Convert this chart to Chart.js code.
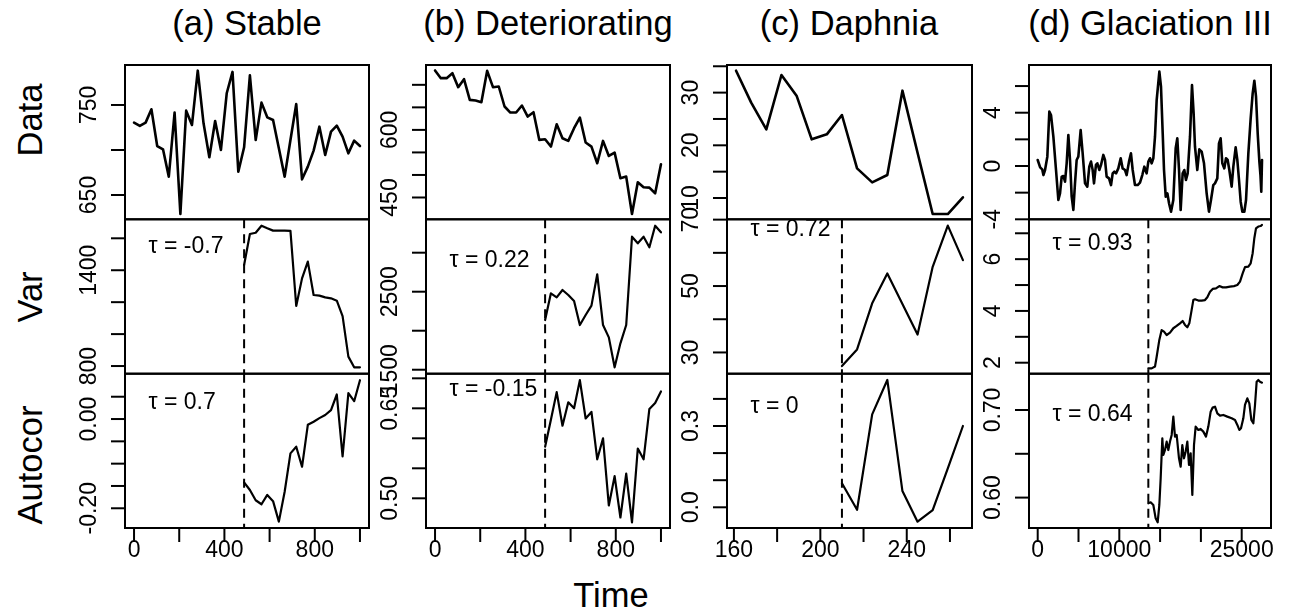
<!DOCTYPE html>
<html>
<head>
<meta charset="utf-8">
<script src="https://cdn.jsdelivr.net/npm/chart.js@4"></script>
<style>
  body { margin: 0; background: #fff; width: 1289px; height: 613px; position: relative; overflow: hidden;
         font-family: "Liberation Sans", Arial, sans-serif; }
  canvas { position: absolute; left: 0; top: 0; }
  .lbl { position: absolute; font-size: 34.5px; line-height: 1; color: #000; white-space: nowrap;
         transform: translate(-50%, -50%); }
  .rot { transform: translate(-50%, -50%) rotate(-90deg); }
</style>
</head>
<body>
<div class="lbl" style="left:247px; top:23px">(a) Stable</div>
<div class="lbl" style="left:548px; top:23px">(b) Deteriorating</div>
<div class="lbl" style="left:849px; top:23px">(c) Daphnia</div>
<div class="lbl" style="left:1150px; top:23px">(d) Glaciation III</div>
<div class="lbl rot" style="left:30px; top:120px">Data</div>
<div class="lbl rot" style="left:30px; top:297px">Var</div>
<div class="lbl rot" style="left:30px; top:465px">Autocor</div>
<div class="lbl" style="left:611px; top:595px">Time</div>

<script>
// ---- data ----
const stableData = [730.4, 726.7, 730.4, 745.2, 704.4, 700.7, 670.4, 741.5, 628.9, 743.7, 727.8, 788.1, 729.6, 691.9,
    732.2, 700.0, 763.0, 786.7, 675.9, 703.0, 783.0, 711.1, 752.6, 736.3, 733.3, 701.9, 670.4, 711.1, 751.1, 667.4,
    681.5, 699.3, 725.9, 694.4, 720.4, 727.0, 714.8, 696.3, 710.4, 704.4];
const stableVar = [1433, 1627, 1635, 1679, 1663, 1648, 1648, 1648, 1646, 1176, 1349, 1454, 1245, 1241, 1230, 1224,
    1209, 1113, 859, 792, 792];
const stableAutocor = [-0.142, -0.159, -0.182, -0.191, -0.170, -0.184, -0.230, -0.163, -0.077, -0.062, -0.107,
    -0.013, -0.006, 0.002, 0.009, 0.020, 0.055, -0.084, 0.058, 0.040, 0.087];

const detData = [731.9, 714.8, 714.8, 725.9, 694.8, 712.6, 666.7, 665.2, 661.5, 731.1, 694.8, 696.3, 651.9, 638.5,
    638.5, 654.1, 629.6, 639.3, 577.8, 579.3, 563.0, 612.6, 581.5, 575.6, 603.7, 627.4, 571.9, 563.0, 525.9, 575.6,
    542.2, 549.6, 492.6, 496.3, 413.3, 483.7, 472.6, 471.9, 459.3, 523.7];
const detVar = [2137, 2479, 2428, 2522, 2458, 2381, 2073, 2201, 2321, 2723, 2073, 1915, 1531, 1838, 2073, 3205, 3120,
    3205, 3069, 3346, 3261];
const detAutocor = [0.586, 0.631, 0.677, 0.621, 0.660, 0.650, 0.697, 0.633, 0.644, 0.565, 0.600, 0.488, 0.537, 0.468,
    0.541, 0.460, 0.583, 0.565, 0.649, 0.659, 0.678];

const daphniaTime = [161, 168, 175, 182, 189, 196, 203, 210, 217, 224, 231, 238, 245, 252, 259, 266];
const daphniaData = [34.16, 28.09, 23.03, 33.34, 29.42, 21.13, 22.08, 25.75, 15.63, 12.97, 14.36, 30.37, 18.60, 6.96,
    6.96, 10.13];
const daphniaVar = [25.9, 30.9, 44.8, 53.8, 44.6, 35.4, 55.8, 68.2, 57.8];
const daphniaAutocor = [0.089, -0.009, 0.343, 0.470, 0.060, -0.053, -0.010, 0.144, 0.300];

const glacTime = [0, 300, 550, 700, 900, 1180, 1425, 1630, 1920, 2245, 2530, 2735, 2940, 3145, 3350, 3550, 3755,
    3960, 4165, 4370, 4570, 4775, 4980, 5265, 5510, 5800, 6080, 6325, 6530, 6735, 6900, 7140, 7310, 7550, 7760, 8040,
    8250, 8450, 8740, 8985, 9190, 9390, 9600, 9880, 10170, 10410, 10700, 10900, 11190, 11430, 11640, 11920, 12250,
    12535, 12820, 13070, 13350, 13560, 13760, 13965, 14170, 14375, 14580, 14910, 15110, 15320, 15480, 15690, 15890,
    16095, 16340, 16620, 16910, 17110, 17320, 17520, 17765, 17970, 18170, 18380, 18665, 18910, 19110, 19275, 19560,
    19805, 20090, 20380, 20705, 20990, 21235, 21520, 21725, 22010, 22215, 22420, 22625, 22870, 23075, 23280, 23485,
    23770, 23975, 24260, 24465, 24670, 24875, 25080, 25325, 25530, 25815, 26100, 26345, 26550, 26755, 26960, 27165,
    27300, 27400, 27490];
const glacData = [0.45, -0.10, -0.25, -0.68, -0.30, 0.70, 4.08, 3.83, 2.20, -0.30, -2.55, -2.05, -0.80, -0.75, -1.18,
    0.20, 2.33, 0.45, -2.30, -3.30, -1.30, 0.45, 0.70, 2.70, 0.95, -1.30, -1.55, -0.05, 0.33, -0.30, -1.30, 0.08, 0.20,
    -0.30, 0.08, 0.83, 0.45, -0.80, -0.93, -1.43, -0.55, -0.43, -0.55, -0.18, 0.58, -0.18, -0.30, -0.68, 0.33, 0.95,
    -0.30, -1.43, -1.43, -1.25, -0.68, -0.05, -0.55, 0.33, 0.58, 0.20, 0.58, 2.20, 4.95, 7.08, 5.95, 2.45, -0.30,
    -2.30, -2.05, -2.80, -3.43, -2.55, 1.33, 2.08, -0.30, -3.30, -0.55, -0.30, -1.05, -0.55, 2.20, 6.08, 3.95, 1.45,
    -0.30, 1.25, 1.08, 0.20, -2.05, -3.43, -2.55, -1.43, -1.30, -0.93, 1.70, 2.08, 0.20, -0.18, 0.58, 0.45, -0.30,
    -1.55, -0.05, 1.40, 0.45, -1.05, -2.68, -3.43, -3.43, -2.55, 0.95, 3.58, 5.45, 6.40, 5.20, 2.45, 0.33, -0.68,
    -1.93, 0.45];
const glacVarTime = [13558, 13966, 14375, 14579, 14906, 15192, 15478, 15805, 16213, 16621, 17030, 17438, 17765, 18051,
    18337, 18582, 18868, 19072, 19276, 19685, 20093, 20502, 20788, 21115, 21442, 21850, 22259, 22667, 23076, 23566,
    24056, 24465, 24792, 25118, 25404, 25813, 26099, 26344, 26548, 26752, 27038, 27324, 27488];
const glacVar = [1.78, 1.78, 1.85, 2.23, 2.88, 3.26, 3.20, 3.07, 3.16, 3.33, 3.42, 3.52, 3.61, 3.46, 3.37, 3.52, 4.04,
    4.42, 4.45, 4.40, 4.40, 4.42, 4.53, 4.74, 4.85, 4.87, 4.96, 4.91, 4.91, 4.94, 4.96, 5.00, 5.13, 5.45, 5.69, 5.71,
    5.84, 6.23, 6.81, 7.19, 7.26, 7.28, 7.32];
const glacAcTime = [13558, 13844, 14171, 14457, 14702, 14906, 15070, 15274, 15396, 15601, 15805, 16009, 16213, 16418,
    16622, 16826, 17030, 17316, 17520, 17724, 17929, 18133, 18337, 18541, 18746, 18950, 19154, 19358, 19685, 19971,
    20298, 20625, 20911, 21197, 21442, 21728, 22014, 22341, 22749, 23239, 23770, 24179, 24465, 24710, 24914, 25200,
    25404, 25690, 25936, 26181, 26426, 26630, 26834, 27038, 27243, 27488];
const glacAutocor = [0.5935, 0.5946, 0.5916, 0.5763, 0.5718, 0.5916, 0.622, 0.6677, 0.6486, 0.6543, 0.6639, 0.6543,
    0.6639, 0.6715, 0.6924, 0.6696, 0.6715, 0.6448, 0.6353, 0.66, 0.6448, 0.6524, 0.6639, 0.6372, 0.6505, 0.603, 0.66,
    0.681, 0.6772, 0.6783, 0.6753, 0.6696, 0.681, 0.6981, 0.7027, 0.7038, 0.6962, 0.6935, 0.6943, 0.6924, 0.6905,
    0.6886, 0.6829, 0.6772, 0.6791, 0.6905, 0.7057, 0.7133, 0.7076, 0.6886, 0.6848, 0.7057, 0.7323, 0.7342, 0.7323,
    0.7312];

// Kendall tau labels
const tauText = ['\u03c4 = -0.7', '\u03c4 = 0.7', '\u03c4 = 0.22', '\u03c4 = -0.15',
                 '\u03c4 = 0.72', '\u03c4 = 0', '\u03c4 = 0.93', '\u03c4 = 0.64'];

// tick values and labels ('' = tick without label)
const yTicksA = [[650, 700, 750], [800, 1000, 1200, 1400, 1600], [-0.2, -0.15, -0.1, -0.05, 0, 0.05]];
const yLabelsA = [['650', '', '750'], ['800', '', '', '1400', ''], ['-0.20', '', '', '', '0.00', '']];
const yTicksB = [[450, 500, 550, 600, 650, 700], [1500, 2000, 2500, 3000], [0.5, 0.55, 0.6, 0.65, 0.7]];
const yLabelsB = [['450', '', '', '600', '', ''], ['1500', '', '2500', ''], ['0.50', '', '', '0.65', '']];
const yTicksC = [[10, 15, 20, 25, 30, 35], [30, 40, 50, 60, 70], [0, 0.1, 0.2, 0.3, 0.4]];
const yLabelsC = [['10', '', '20', '', '30', ''], ['30', '', '50', '', '70'], ['0.0', '', '', '0.3', '']];
const yTicksD = [[-4, -2, 0, 2, 4, 6], [2, 3, 4, 5, 6, 7], [0.6, 0.65, 0.7]];
const yLabelsD = [['-4', '', '0', '', '4', ''], ['2', '', '4', '', '6', ''], ['0.60', '', '0.70']];
const xTicksAB = [0, 200, 400, 600, 800, 1000];
const xLabelsAB = ['0', '', '400', '', '800', ''];
const xTicksC = [160, 180, 200, 220, 240, 260];
const xLabelsC = ['160', '', '200', '', '240', ''];
const xTicksD = [0, 5000, 10000, 15000, 20000, 25000];
const xLabelsD = ['0', '', '10000', '', '', '25000'];

// ---- layout ----
const W = 1289, H = 613;
const FONT = '"Liberation Sans", Arial, sans-serif';
const colX = [[125, 369], [426, 670], [727, 972], [1029, 1271]];
const rowY = [[65, 219.3], [219.3, 373.7], [373.7, 528]];

// time axes (stable / deteriorating are evenly sampled on 0..1000)
const abTime = stableData.map((_, i) => i * 1000 / 39);
const abWin = abTime.slice(19);
const cWin = daphniaTime.slice(7);

const columns = [
    { xr: [-40, 1040], win: abTime[19], xt: xTicksAB, xl: xLabelsAB, yt: yTicksA, yl: yLabelsA,
      yr: [[623, 794.4], [752, 1719], [-0.2442, 0.1016]],
      series: [[abTime, stableData], [abWin, stableVar], [abWin, stableAutocor]], tauDy: [27, 29] },
    { xr: [-40, 1040], win: abTime[19], xt: xTicksAB, xl: xLabelsAB, yt: yTicksB, yl: yLabelsB,
      yr: [[401.6, 744], [1449, 3428], [0.4505, 0.7077]],
      series: [[abTime, detData], [abWin, detVar], [abWin, detAutocor]], tauDy: [41, 15.5] },
    { xr: [156.8, 270.2], win: 210, xt: xTicksC, xl: xLabelsC, yt: yTicksC, yl: yLabelsC,
      yr: [[5.96, 35.24], [23.6, 70.1], [-0.0764, 0.493]],
      series: [[daphniaTime, daphniaData], [cWin, daphniaVar], [cWin, daphniaAutocor]], tauDy: [10, 33] },
    { xr: [-1066, 28591], win: 13558, xt: xTicksD, xl: xLabelsD, yt: yTicksD, yl: yLabelsD,
      yr: [[-4.0, 7.58], [1.575, 7.54], [0.5653, 0.7414]],
      series: [[glacTime, glacData], [glacVarTime, glacVar], [glacAcTime, glacAutocor]], tauDy: [24, 41.3] }
];

const rAxes = {
    id: 'rAxes',
    afterDraw(chart) {
        const p = chart.options.plugins.rAxes;
        const ctx = chart.ctx;
        const { left, right, top, bottom } = chart.chartArea;
        const xs = chart.scales.x, ys = chart.scales.y;
        ctx.save();
        ctx.strokeStyle = '#000';
        ctx.fillStyle = '#000';
        ctx.lineWidth = 2;

        // window end marker
        if (p.win !== null) {
            const x = xs.getPixelForValue(p.win);
            ctx.save();
            ctx.setLineDash([9, 6]);
            ctx.beginPath();
            ctx.moveTo(x, top);
            ctx.lineTo(x, bottom);
            ctx.stroke();
            ctx.restore();
        }

        ctx.strokeRect(left, top, right - left, bottom - top);

        // y axis (labels parallel to the axis)
        ctx.font = '23px ' + FONT;
        p.yt.forEach((v, i) => {
            const y = ys.getPixelForValue(v);
            ctx.beginPath();
            ctx.moveTo(left, y);
            ctx.lineTo(left - 14, y);
            ctx.stroke();
            if (p.yl[i]) {
                ctx.save();
                ctx.translate(left - 35, y);
                ctx.rotate(-Math.PI / 2);
                ctx.textAlign = 'center';
                ctx.textBaseline = 'middle';
                ctx.fillText(p.yl[i], 0, 0);
                ctx.restore();
            }
        });

        // x axis, bottom row only
        if (p.xt) {
            p.xt.forEach((v, i) => {
                const x = xs.getPixelForValue(v);
                ctx.beginPath();
                ctx.moveTo(x, bottom);
                ctx.lineTo(x, bottom + 14);
                ctx.stroke();
                if (p.xl[i]) {
                    ctx.textAlign = 'center';
                    ctx.textBaseline = 'alphabetic';
                    ctx.fillText(p.xl[i], x, bottom + 29);
                }
            });
        }

        if (p.tau) {
            ctx.textAlign = 'left';
            ctx.textBaseline = 'middle';
            ctx.fillText(p.tau, left + 23.5, top + p.tauDy);
        }
        ctx.restore();
    }
};

columns.forEach((col, c) => {
    rowY.forEach((ry, r) => {
        const canvas = document.createElement('canvas');
        canvas.width = W;
        canvas.height = H;
        canvas.style.width = W + 'px';
        canvas.style.height = H + 'px';
        document.body.appendChild(canvas);

        const [xv, yv] = col.series[r];
        const pts = yv.map((v, i) => ({ x: xv[i], y: v }));

        new Chart(canvas, {
            type: 'line',
            data: {
                datasets: [{
                    data: pts,
                    borderColor: '#000',
                    borderWidth: r === 0 ? 2.6 : 2.2,
                    pointRadius: 0,
                    tension: 0,
                    fill: false,
                    borderJoinStyle: 'round',
                    borderCapStyle: 'round'
                }]
            },
            options: {
                responsive: false,
                animation: false,
                events: [],
                layout: { padding: { left: colX[c][0], right: W - colX[c][1], top: ry[0], bottom: H - ry[1] } },
                scales: {
                    x: { type: 'linear', min: col.xr[0], max: col.xr[1], display: false },
                    y: { type: 'linear', min: col.yr[r][0], max: col.yr[r][1], display: false }
                },
                plugins: {
                    legend: { display: false },
                    tooltip: { enabled: false },
                    rAxes: {
                        win: r > 0 ? col.win : null,
                        yt: col.yt[r],
                        yl: col.yl[r],
                        xt: r === 2 ? col.xt : null,
                        xl: col.xl,
                        tau: r > 0 ? tauText[c * 2 + r - 1] : null,
                        tauDy: r > 0 ? col.tauDy[r - 1] : 0
                    }
                }
            },
            plugins: [rAxes]
        });
    });
});
</script>
</body>
</html>
